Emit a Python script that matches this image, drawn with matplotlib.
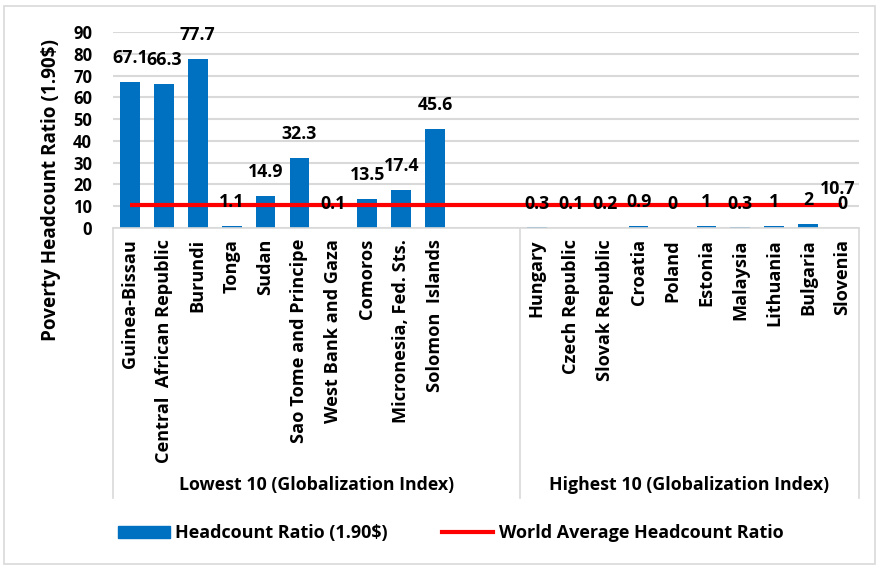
import numpy as np
import matplotlib
matplotlib.use('Agg')
import matplotlib.pyplot as plt
from matplotlib.patches import Rectangle
from matplotlib.lines import Line2D

# countries ranked by globalization index
lowest_countries = ['Guinea-Bissau', 'Central  African Republic', 'Burundi', 'Tonga', 'Sudan',
                    'Sao Tome and Principe', 'West Bank and Gaza', 'Comoros',
                    'Micronesia, Fed. Sts.', 'Solomon  Islands']
lowest_ratio = [67.1, 66.3, 77.7, 1.1, 14.9, 32.3, 0.1, 13.5, 17.4, 45.6]

highest_countries = ['Hungary', 'Czech Republic', 'Slovak Republic', 'Croatia', 'Poland',
                     'Estonia', 'Malaysia', 'Lithuania', 'Bulgaria', 'Slovenia']
highest_ratio = [0.3, 0.1, 0.2, 0.9, 0, 1, 0.3, 1, 2, 0]

group_names = ['Lowest 10 (Globalization Index)', 'Highest 10 (Globalization Index)']
world_avg = 10.7
gap = 2   # empty slots between the two groups

plt.rcParams['font.family'] = ['Open Sans', 'DejaVu Sans']
plt.rcParams['font.weight'] = 'bold'

blue = '#0070C0'
red = '#FF0000'
grid = '#D9D9D9'

fig = plt.figure(figsize=(8.79, 5.68), dpi=100)
ax = fig.add_axes([113/879, 1-228/568, (859-113)/879, (228-32)/568])

labels = lowest_countries + [''] * gap + highest_countries
values = lowest_ratio + [np.nan] * gap + highest_ratio
x = np.arange(len(labels))

ax.bar(x, values, width=0.58, color=blue, zorder=2)
ax.plot(x, [world_avg] * len(x), color=red, lw=3, zorder=3, solid_capstyle='butt')

for xi, v in zip(x, values):
    if np.isnan(v):
        continue
    ax.annotate(f'{v:g}', (xi, v), xytext=(0, 17), textcoords='offset points',
                ha='center', va='center', fontsize=12.8, fontweight='bold', zorder=4)
ax.annotate(f'{world_avg:g}', (x[-1], world_avg), xytext=(-3, 11), textcoords='offset points',
            ha='center', va='center', fontsize=12.8, fontweight='bold', zorder=4)

ax.set_xlim(-0.5, len(x) - 0.5)
ax.set_ylim(0, 90)
ax.set_yticks(range(0, 91, 10))
ax.set_xticks(x)
ax.set_xticklabels(labels, rotation=90, va='top', ha='center')
ax.tick_params(axis='x', length=0, pad=8, labelsize=13.1)
ax.tick_params(axis='y', length=0, pad=15, labelsize=12)
ax.yaxis.grid(True, color=grid, lw=1.5, zorder=0)
ax.set_axisbelow(True)
for s in ['left', 'right', 'top']:
    ax.spines[s].set_visible(False)
ax.spines['bottom'].set_color(grid)
ax.spines['bottom'].set_linewidth(1.2)

fig.text(51/879, 1-190/568, 'Poverty Headcount Ratio (1.90$)', rotation=90,
         ha='center', va='center', fontsize=13.6, fontweight='bold')

# two-level category axis: dividers and group names
trans = ax.get_xaxis_transform()
bottom = -(498 - 228) / 196
n_low = len(lowest_countries)
for xb in [-0.5, n_low + gap - 0.5, len(x) - 0.5]:
    ax.plot([xb, xb], [0, bottom], color=grid, lw=1.2, transform=trans, clip_on=False)
centers = [(-0.5 + n_low + gap - 0.5) / 2, (n_low + gap - 0.5 + len(x) - 0.5) / 2]
for cx, name in zip(centers, group_names):
    ax.text(cx, -(485 - 228) / 196, name, transform=trans, ha='center', va='center',
            fontsize=12.8, fontweight='bold')

handles = [Rectangle((0, 0), 1, 1, color=blue),
           Line2D([0], [0], color=red, lw=3)]
fig.legend(handles, ['Headcount Ratio (1.90$)', 'World Average Headcount Ratio'],
           loc='center left', bbox_to_anchor=(102/879, 1-533/568), ncol=2, frameon=False,
           prop={'size': 13, 'weight': 'bold'}, handlelength=2.85, handleheight=0.65,
           handletextpad=0.3, columnspacing=3.0)

fig.patches.append(Rectangle((4/879, 4/568), 871/879, 558/568, transform=fig.transFigure,
                             fill=False, edgecolor=grid, lw=1.2))

fig.savefig('out.png', dpi=100)
